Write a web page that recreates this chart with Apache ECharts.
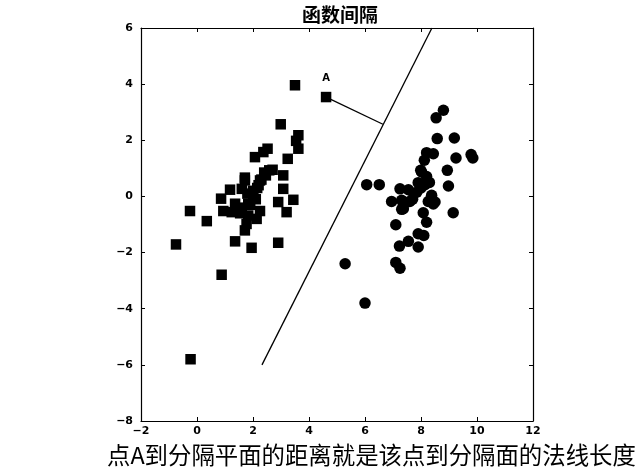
<!DOCTYPE html>
<html><head><meta charset="utf-8">
<script src="https://cdn.jsdelivr.net/npm/echarts@6/dist/echarts.min.js"></script>
<style>html,body{margin:0;padding:0;background:#fff}#c{width:642px;height:475px}</style>
</head><body><div id="c"></div>
<script>
const titleText = '函数间隔';
const captionText = '点A到分隔平面的距离就是该点到分隔面的法线长度';
const xTicks = [-2, 0, 2, 4, 6, 8, 10, 12];
const yTicks = [-8, -6, -4, -2, 0, 2, 4, 6];
const squares = [
  [3.5,3.96],[2.99,2.57],[3.62,2.18],[3.54,1.98],[3.62,1.70],[2.52,1.70],[2.37,1.58],
  [2.07,1.40],[3.24,1.34],[2.58,0.93],[2.46,0.75],[3.08,0.75],[1.71,0.67],[2.25,0.57],
  [1.71,0.57],[1.6,0.27],[1.18,0.24],[3.08,0.27],[2.01,0.04],[0.86,-0.08],[3.44,-0.12],
  [2.9,-0.2],[1.36,-0.26],[1.83,-0.26],[0.94,-0.52],[1.24,-0.56],[1.54,-0.6],[2.25,-0.52],
  [3.2,-0.56],[-0.25,-0.52],[0.35,-0.88],[1.83,-0.68],[2.13,-0.8],[1.77,-0.98],[1.71,-1.21],
  [1.36,-1.6],[1.95,-1.83],[2.9,-1.65],[-0.75,-1.71],[0.88,-2.79],[-0.23,-5.8],
  [1.9,-0.3],[2.0,0.2],[2.2,0.4],[2.3,0.6],[2.4,0.85],[1.6,-0.4],[1.8,0.1],[2.1,-0.1],
  [1.4,-0.45],[2.7,0.95],[2.15,0.3]
];
const circles = [
  [8.8,3.07],[8.54,2.8],[8.58,2.06],[9.19,2.08],[8.2,1.56],[8.44,1.52],[8.12,1.29],
  [9.79,1.49],[9.85,1.37],[9.25,1.37],[8.94,0.93],[8.02,0.87],[8.2,0.71],[6.06,0.42],
  [6.51,0.42],[8.98,0.37],[7.9,0.49],[8.14,0.42],[7.25,0.27],[7.55,0.24],[7.85,0.15],
  [8.38,0.04],[6.95,-0.18],[7.31,-0.14],[7.6,-0.18],[8.26,-0.18],[8.5,-0.2],[7.45,-0.22],
  [8.35,-0.1],[8.44,-0.27],[7.31,-0.46],[9.15,-0.58],[8.08,-0.58],[8.2,-0.92],[7.1,-1.01],
  [7.9,-1.33],[8.1,-1.39],[7.55,-1.6],[7.23,-1.77],[7.9,-1.8],[5.29,-2.4],[7.1,-2.35],
  [7.25,-2.56],[6.0,-3.8],[7.99,0.93],[7.37,-0.44],[8.0,0.3],[8.3,0.5],[7.7,-0.1]
];
const separator = [[2.32,-6],[8.39,6]];
const pointA = [4.61,3.54];
const footA = [6.64,2.57];

const tickFont = {color:'#000', fontSize:11, fontWeight:'bold', fontFamily:'DejaVu Sans',
  formatter: v => String(v).replace('-', '\u2212')};
const lineStyle = {color:'#000', width:1.2};
function xa(pos, show){ return {type:'value', position:pos, min:-2, max:12, interval:2,
  axisLine:{show:true, onZero:false, lineStyle}, axisTick:{show:true, inside:true, length:4, lineStyle:{color:'#000'}},
  axisLabel: show ? Object.assign({margin:5}, tickFont) : {show:false}, splitLine:{show:false}}; }
function ya(pos, show){ return {type:'value', position:pos, min:-8, max:6, interval:2,
  axisLine:{show:true, onZero:false, lineStyle}, axisTick:{show:true, inside:true, length:4, lineStyle:{color:'#000'}},
  axisLabel: show ? Object.assign({margin:8}, tickFont) : {show:false}, splitLine:{show:false}}; }

const chart = echarts.init(document.getElementById('c'), null, {renderer:'canvas'});
chart.setOption({
  backgroundColor:'#fff',
  animation:false,
  title:{text:titleText, left:335, top:0, textAlign:'center',
    textStyle:{fontSize:19, fontWeight:'bold', color:'#000', fontFamily:'Noto Sans CJK SC'}},
  grid:{left:141, right:109, top:28, bottom:54},
  xAxis:[xa('bottom', true), xa('top', false)],
  yAxis:[ya('left', true), ya('right', false)],
  series:[
    {type:'line', data:separator, symbol:'none', lineStyle:{color:'#000', width:1.3}, z:2},
    {type:'line', data:[pointA, footA], symbol:'none', lineStyle:{color:'#000', width:1.3}, z:2},
    {type:'scatter', data:squares, symbol:'rect', symbolSize:10.5, itemStyle:{color:'#000', opacity:1}, z:3},
    {type:'scatter', data:circles, symbol:'circle', symbolSize:11.5, itemStyle:{color:'#000', opacity:1}, z:3},
    {type:'scatter', data:[pointA], symbol:'rect', symbolSize:10.5, itemStyle:{color:'#000', opacity:1}, z:3,
      label:{show:true, position:'top', distance:8, formatter:'A', color:'#000', fontSize:10, fontWeight:'bold', fontFamily:'DejaVu Sans'}}
  ],
  graphic:[{type:'text', left:107, top:443,
    style:{text:captionText, fontSize:23.4, fill:'#000', fontFamily:'Noto Sans CJK SC'}}]
});
</script></body></html>
